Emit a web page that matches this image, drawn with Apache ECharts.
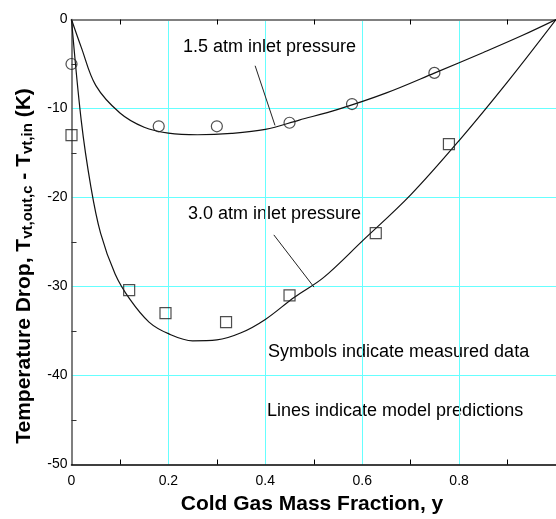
<!DOCTYPE html>
<html>
<head>
<meta charset="utf-8">
<script src="https://cdn.jsdelivr.net/npm/echarts@6.0.0/dist/echarts.min.js"></script>
<style>
  html, body { margin: 0; padding: 0; background: #fff; }
  #chart { width: 556px; height: 519px; }
</style>
</head>
<body>
<div id="chart"></div>
<script>
// measured points
var lowX = [0, 0.18, 0.30, 0.45, 0.579, 0.749];
var lowY = [-5, -12.0, -12.0, -11.6, -9.5, -6.0];
var highX = [0, 0.119, 0.194, 0.319, 0.45, 0.628, 0.779];
var highY = [-13.0, -30.4, -33.0, -34.0, -31.0, -24.0, -14.0];

// model curves
var lowFitX = [0, 0.02, 0.05, 0.1, 0.15, 0.2, 0.26, 0.33, 0.4, 0.47, 0.55, 0.65, 0.75, 0.85, 0.93, 1.0];
var lowFitY = [0, -3.1, -7.4, -10.5, -12.1, -12.76, -12.95, -12.8, -12.35, -11.3, -10.1, -8.25, -6.0, -3.7, -1.8, 0];
var highFitX = [0, 0.02, 0.04, 0.06, 0.09, 0.12, 0.16, 0.2, 0.25, 0.3, 0.35, 0.4, 0.46, 0.52, 0.6, 0.7, 0.8, 0.9, 1.0];
var highFitY = [0, -11.3, -18.8, -24.0, -28.6, -31.4, -34.0, -35.3, -36.1, -36.0, -35.2, -33.7, -31.2, -29.0, -24.9, -19.7, -13.6, -7.0, 0];

// leader lines for the curve labels
var lowLeaderX = [0.379, 0.420];
var lowLeaderY = [-5.2, -11.9];
var highLeaderX = [0.4176, 0.5005];
var highLeaderY = [-24.2, -30.07];

var yTicks = [0, -10, -20, -30, -40, -50];

function pairs(xs, ys) {
  return xs.map(function (x, i) { return [x, ys[i]]; });
}

var chart = echarts.init(document.getElementById('chart'));
var font = 'Liberation Sans, Arial, sans-serif';
var gridColor = '#66ffff';

var option = {
  animation: false,
  backgroundColor: '#fff',
  // x = 1 falls just past the right edge, as in the cropped original
  grid: { left: 71.5, top: 19.5, right: -5.5, bottom: 54.5, containLabel: false },
  xAxis: [
    {
      type: 'value',
      min: 0,
      max: 1,
      interval: 0.2,
      position: 'bottom',
      axisLine: { show: true, onZero: false, lineStyle: { color: '#000', width: 1.5 } },
      axisTick: { show: false, inside: true },
      minorTick: { show: true, splitNumber: 2, length: 5, lineStyle: { color: '#000', width: 1 } },
      axisLabel: {
        margin: 10,
        showMaxLabel: false,
        fontFamily: font,
        fontSize: 14,
        color: '#000'
      },
      splitLine: { show: true, showMinLine: false, showMaxLine: false, lineStyle: { color: gridColor, width: 1 } }
    },
    {
      type: 'value',
      min: 0,
      max: 1,
      interval: 0.2,
      position: 'top',
      axisLine: { show: true, onZero: false, lineStyle: { color: '#808080', width: 2 } },
      axisTick: { show: false, inside: true },
      minorTick: { show: true, splitNumber: 2, length: 5, lineStyle: { color: '#000', width: 1 } },
      axisLabel: { show: false },
      splitLine: { show: false }
    }
  ],
  yAxis: {
    type: 'value',
    min: -50,
    max: 0,
    interval: 10,
    axisLine: { show: true, onZero: false, lineStyle: { color: '#555', width: 1.5 } },
    axisTick: { show: false, inside: true },
    minorTick: { show: true, splitNumber: 2, length: 5, lineStyle: { color: '#333', width: 1 } },
    axisLabel: {
      margin: 4,
      fontFamily: font,
      fontSize: 14,
      color: '#000',
      formatter: function (v) { return yTicks.indexOf(v) >= 0 ? String(v) : ''; }
    },
    splitLine: { show: true, showMinLine: false, showMaxLine: false, lineStyle: { color: gridColor, width: 1 } }
  },
  series: [
    {
      type: 'line',
      data: pairs(lowFitX, lowFitY),
      smooth: 0.35,
      symbol: 'none',
      lineStyle: { color: '#111', width: 1.2 },
      z: 3
    },
    {
      type: 'line',
      data: pairs(highFitX, highFitY),
      smooth: 0.35,
      symbol: 'none',
      lineStyle: { color: '#111', width: 1.2 },
      z: 3
    },
    {
      type: 'line',
      data: pairs(lowLeaderX, lowLeaderY),
      symbol: 'none',
      lineStyle: { color: '#222', width: 1 },
      z: 3
    },
    {
      type: 'line',
      data: pairs(highLeaderX, highLeaderY),
      symbol: 'none',
      lineStyle: { color: '#222', width: 1 },
      z: 3
    },
    {
      type: 'scatter',
      data: pairs(lowX, lowY),
      symbol: 'circle',
      symbolSize: 11,
      itemStyle: { color: 'rgba(255,255,255,0)', borderColor: '#222', borderWidth: 1.2 },
      z: 4
    },
    {
      type: 'scatter',
      data: pairs(highX, highY),
      symbol: 'rect',
      symbolSize: 11,
      itemStyle: { color: 'rgba(255,255,255,0)', borderColor: '#222', borderWidth: 1.2 },
      z: 4
    }
  ],
  graphic: [
    {
      type: 'text', x: 183, y: 47,
      style: { text: '1.5 atm inlet pressure', fontFamily: font, fontSize: 18, fill: '#000', verticalAlign: 'middle' }
    },
    {
      type: 'text', x: 188, y: 214,
      style: { text: '3.0 atm inlet pressure', fontFamily: font, fontSize: 18, fill: '#000', verticalAlign: 'middle' }
    },
    {
      type: 'text', x: 268, y: 352,
      style: { text: 'Symbols indicate measured data', fontFamily: font, fontSize: 18, fill: '#000', verticalAlign: 'middle' }
    },
    {
      type: 'text', x: 267, y: 411,
      style: { text: 'Lines indicate model predictions', fontFamily: font, fontSize: 18, fill: '#000', verticalAlign: 'middle' }
    },
    {
      type: 'text', x: 312, y: 504,
      style: {
        text: 'Cold Gas Mass Fraction, y',
        fontFamily: font, fontSize: 21, fontWeight: 'bold', fill: '#000',
        align: 'center', verticalAlign: 'middle'
      }
    },
    {
      type: 'text', x: 24, y: 266, rotation: Math.PI / 2,
      style: {
        text: 'Temperature Drop, T{s|vt,out,c} - T{s|vt,in} (K)',
        fontFamily: font, fontSize: 21, fontWeight: 'bold', fill: '#000',
        lineHeight: 22,
        align: 'center', verticalAlign: 'middle',
        rich: {
          s: { fontFamily: font, fontSize: 15, fontWeight: 'bold', fill: '#000', lineHeight: 8, verticalAlign: 'bottom' }
        }
      }
    }
  ]
};

chart.setOption(option);
</script>
</body>
</html>
